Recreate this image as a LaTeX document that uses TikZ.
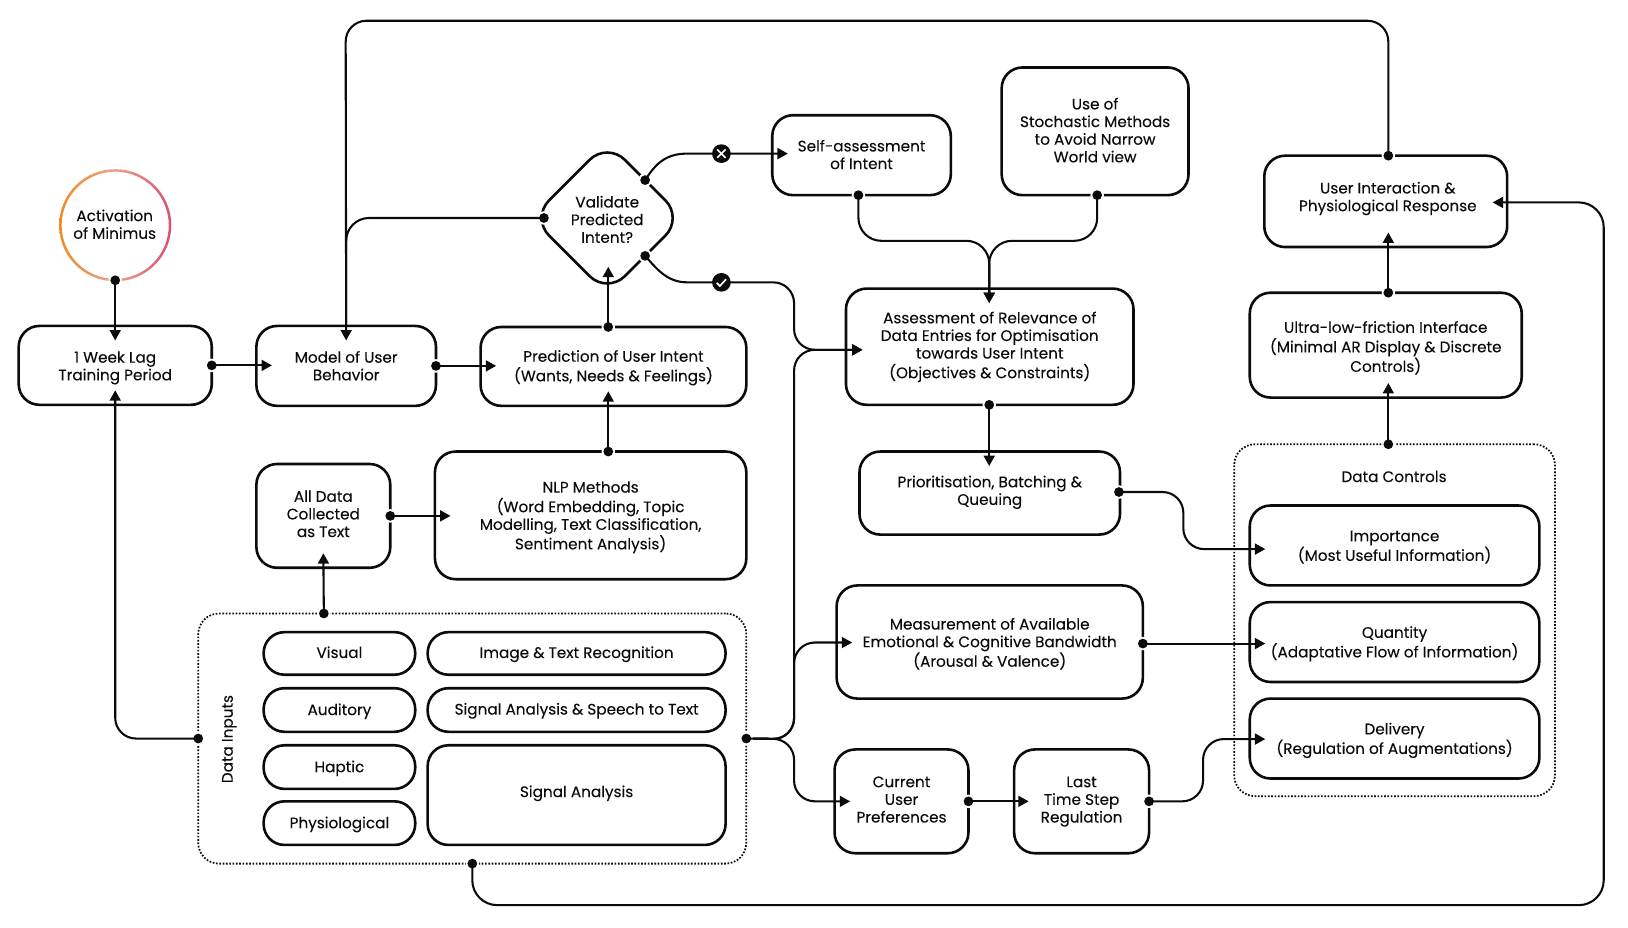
\documentclass[tikz,border=0pt]{standalone}
\usepackage{fontspec}
\setmainfont{Poppins}[FakeBold=0.12]
\usetikzlibrary{arrows.meta,shapes.geometric}
\definecolor{ink}{HTML}{0B0B0B}
\definecolor{ringa}{HTML}{F08A24}
\definecolor{ringb}{HTML}{E8A48C}
\definecolor{ringc}{HTML}{D9506E}
\tikzset{
  base/.style={align=center,inner sep=0pt,outer sep=0pt,text=ink,font=\fontsize{14.7}{17}\selectfont},
  box/.style={base,draw=ink,line width=2.5pt,rounded corners=20pt},
  pill/.style={box,rounded corners=20pt},
  dotbox/.style={base,draw=ink,line width=1.7pt,dash pattern=on 1.6pt off 1.6pt,rounded corners=20pt},
  flow/.style={draw=ink,line width=2pt,-{Triangle[length=10pt,width=10.5pt]}},
  plainflow/.style={draw=ink,line width=2pt},
}
\newcommand\bx[7][box]{\node[#1,minimum width=#5-#3,minimum height=#6-#4] (#2) at ({(#3+#5)/2},{(#4+#6)/2}) {#7};}
\newcommand\tx[2]{\raisebox{\dimexpr #1pt-5.6pt\relax}[0pt][0pt]{\begin{tabular}{@{}c@{}}#2\end{tabular}}}
\newcommand\hl[1]{\fill[white] #1 circle (6.5pt);}
\newcommand\dt[1]{\fill[ink] #1 circle (4.7pt);}
\newcommand\lnk[3][flow]{\hl{#2}\draw[#1] #2 #3;\dt{#2}}
\begin{document}
\begin{tikzpicture}[x=1pt,y=-1pt]
\useasboundingbox (0,0) rectangle (1568.4,894);
% activation
\shade[even odd rule,left color=ringa,right color=ringc,middle color=ringb] (111,217) circle (54pt) (111,217) circle (51.6pt);
\node[base] (act) at (110.5,216) {Activation\\of Minimus};
% boxes
\bx{lag}{18}{314}{204}{390}{\tx{-0.5}{1 Week Lag\\Training Period}}
\bx{model}{247}{314}{420}{391}{\tx{0}{Model of User\\Behavior}}
\bx{pred}{463}{315}{719}{391}{\tx{0.5}{Prediction of User Intent\\(Wants, Needs \& Feelings)}}
\bx{nlp}{419}{435}{719}{558}{\tx{0}{NLP Methods\\(Word Embedding, Topic\\Modelling, Text Classification,\\Sentiment Analysis)}}
\bx{txt}{247}{447}{376}{547}{\tx{2}{All Data\\Collected\\as Text}}
\bx{self}{744}{111}{916}{188}{\tx{0.5}{Self-assessment\\of Intent}}
\bx{stoch}{965}{65}{1145}{188}{\tx{1}{Use of\\Stochastic Methods\\to Avoid Narrow\\World view}}
\bx{rel}{815}{278}{1092}{390}{\tx{1.5}{Assessment of Relevance of\\Data Entries for Optimisation\\towards User Intent\\(Objectives \& Constraints)}}
\bx{prio}{828}{435}{1079}{515}{\tx{2.5}{Prioritisation, Batching \&\\Queuing}}
\bx{meas}{806}{564}{1101}{673}{\tx{-0.5}{Measurement of Available\\Emotional \& Cognitive Bandwidth\\(Arousal \& Valence)}}
\bx{cur}{804}{722}{933}{822}{\tx{2}{Current\\User\\Preferences}}
\bx{last}{977}{722}{1107}{822}{\tx{2}{Last\\Time Step\\Regulation}}
\bx{user}{1218}{150}{1452}{238}{\tx{4.5}{\hspace*{4pt}User Interaction \&\\\hspace*{4pt}Physiological Response}}
\bx{ultra}{1204}{282}{1466}{383}{\tx{-1.5}{Ultra-low-friction Interface\\(Minimal AR Display \& Discrete\\Controls)}}
\bx[dotbox]{dc}{1189}{428}{1498}{767}{}
\node[base] (dcl) at (1343,459) {Data Controls};
\bx{imp}{1204}{487}{1483}{564}{\tx{0}{Importance\\(Most Useful Information)}}
\bx{qty}{1204}{580}{1483}{657}{\tx{0}{Quantity\\(Adaptative Flow of Information)}}
\bx{del}{1204}{673}{1483}{750}{\tx{0}{Delivery\\(Regulation of Augmentations)}}
\bx[dotbox]{di}{191}{591}{719}{832}{}
\node[base,rotate=90] (dil) at (221,712) {Data Inputs};
\bx[pill]{vis}{254}{609}{400}{650}{\tx{1}{Visual}}
\bx[pill]{aud}{254}{663}{400}{705}{\tx{0.5}{Auditory}}
\bx[pill]{hap}{254}{718}{400}{760}{\tx{0.5}{Haptic}}
\bx[pill]{phy}{254}{772}{400}{814}{\tx{0.5}{Physiological}}
\bx[pill]{img}{412}{609}{699}{650}{\tx{1}{Image \& Text Recognition}}
\bx[pill]{sig}{412}{663}{699}{705}{\tx{1}{Signal Analysis \& Speech to Text}}
\bx{san}{412}{718}{699}{814}{\tx{3.5}{Signal Analysis}}
\node[base,diamond,aspect=1,draw=ink,line width=2.5pt,rounded corners=24pt,minimum width=146pt,minimum height=146pt] (val) at (585,210) {\tx{-1.5}{Validate\\Predicted\\Intent?}};
% connectors
\lnk{(111,270)}{-- ([yshift=-14pt]lag.north)}
\lnk{(lag.east)}{-- ([xshift=15pt]model.west |- lag.east)}
\lnk{(model.east)}{-- ([xshift=15pt]pred.west |- model.east)}
\lnk[flow,rounded corners=20pt]{(di.west)}{-| ([yshift=14pt]lag.south)}
\lnk[flow,rounded corners=20pt]{([xshift=2.5pt]user.north)}{|- (333,20) -- ([yshift=-14pt]model.north)}
\lnk[plainflow,rounded corners=22pt]{([xshift=12pt]val.west)}{-| (model.north)}
\lnk{(pred.north -| 586,0)}{-- (586,257)}
\lnk{(nlp.north -| 586,0)}{-- (586,377)}
\lnk{(txt.east)}{-- ([xshift=15pt]nlp.west |- txt.east)}
\lnk{(312,591)}{-- ([yshift=14pt]txt.south)}
\lnk{(val.north east)}{.. controls (632,157) and (642,148) .. (662,148) -- ([xshift=15pt]self.west |- 0,148)}
\lnk{(val.south east)}{.. controls (632,258) and (642,272) .. (662,272) -- (745,272) .. controls (756,272) and (765,281) .. (765,292) -- (765,317) .. controls (765,328) and (774,337) .. (785,337) -- ([xshift=16pt]rel.west |- 0,337)}
\lnk[flow,rounded corners=20pt]{(di.east)}{-- (765,712) -- (765,337) -- ([xshift=16pt]rel.west |- 0,337)}
\lnk[flow,rounded corners=20pt]{(di.east)}{-- (765,712) -- (765,619) -- ([xshift=15pt]meas.west |- 0,619)}
\lnk[flow,rounded corners=20pt]{(di.east)}{-- (765,712) -- (765,772) -- ([xshift=15pt]cur.west |- 0,772)}
\lnk[flow,rounded corners=22pt]{(self.south -| 827,0)}{|- (900,232) -- (953,232) -- ([yshift=-14pt]rel.north -| 953,0)}
\lnk[flow,rounded corners=22pt]{(stoch.south -| 1057,0)}{|- (1000,232) -- (953,232) -- ([yshift=-14pt]rel.north -| 953,0)}
\lnk{(rel.south -| 953,0)}{-- ([yshift=-14pt]prio.north -| 953,0)}
\lnk[flow,rounded corners=20pt]{(1078,474)}{-- (1140,474) -- (1140,529) -- ([xshift=15pt]imp.west |- 0,529)}
\lnk{([yshift=-1.5pt]meas.east)}{-- ([xshift=15pt]qty.west |- 0,620)}
\lnk{(cur.east)}{-- ([xshift=14pt]last.west)}
\lnk[flow,rounded corners=20pt]{(last.east)}{-- (1159,772) -- (1159,712) -- ([xshift=15pt]del.west |- 0,712)}
\lnk{(1337.5,428)}{-- (1337.5,369)}
\lnk{(1337.5,282)}{-- (1337.5,224)}
\lnk[flow,rounded corners=24pt]{(455,832)}{|- (1545,872) |- ([xshift=-14pt]user.east |- 0,195)}
% decision marks
\node[circle,fill=ink,minimum size=18pt,inner sep=0pt] (no) at (695,148) {};
\draw[white,line width=1.6pt] (691,144) -- (699,152) (699,144) -- (691,152);
\node[circle,fill=ink,minimum size=18pt,inner sep=0pt] (yes) at (695,272) {};
\draw[white,line width=1.6pt] (690.5,272.5) -- (693.5,275.5) -- (699.5,269);
\end{tikzpicture}
\end{document}
